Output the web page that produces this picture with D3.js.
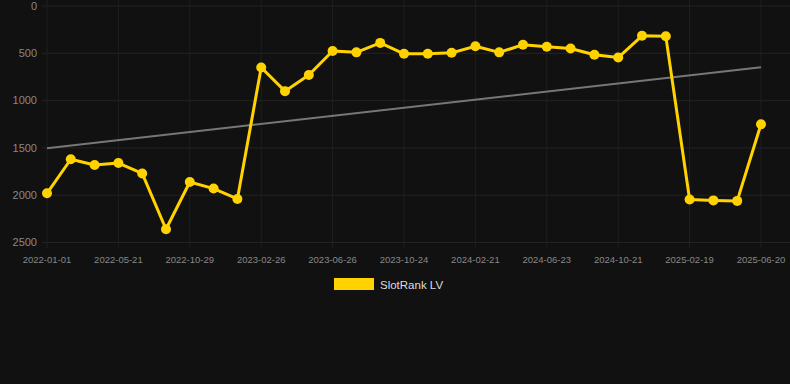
<!DOCTYPE html>
<html>
<head>
<meta charset="utf-8">
<script src="https://cdn.jsdelivr.net/npm/d3@7"></script>
<style>
  html, body { margin: 0; padding: 0; background: #111111; }
  svg { display: block; }
</style>
</head>
<body>
<svg></svg>
<script>
const width = 790;
const height = 384;

// category labels (only every third is shown on the axis)
const dates = [
  "2022-01-01", "2022-02-16", "2022-04-04", "2022-05-21", "2022-07-04", "2022-09-15",
  "2022-10-29", "2022-12-08", "2023-01-17", "2023-02-26", "2023-04-07", "2023-05-17",
  "2023-06-26", "2023-08-05", "2023-09-14", "2023-10-24", "2023-12-03", "2024-01-12",
  "2024-02-21", "2024-04-01", "2024-05-13", "2024-06-23", "2024-08-02", "2024-09-11",
  "2024-10-21", "2024-11-30", "2025-01-09", "2025-02-19", "2025-03-31", "2025-05-10",
  "2025-06-20"
];
const ranks = [
  1980, 1620, 1680, 1660, 1770, 2360, 1860, 1930, 2040,
  650, 900, 730, 475, 490, 390, 505, 505, 495, 425, 490,
  410, 430, 450, 515, 545, 315, 320, 2045, 2055, 2060, 1250
];
const yTicks = [0, 500, 1000, 1500, 2000, 2500];
const seriesName = "SlotRank LV";

const svg = d3.select("svg")
  .attr("width", width)
  .attr("height", height);

const x = d3.scalePoint()
  .domain(dates)
  .range([47, 761]);

const y = d3.scaleLinear()
  .domain([0, 2500])
  .range([6, 242.5]);

// grid
svg.append("g")
  .selectAll("line")
  .data(yTicks)
  .enter()
  .append("line")
  .attr("x1", 42)
  .attr("x2", width)
  .attr("y1", d => y(d))
  .attr("y2", d => y(d))
  .attr("stroke", "#232323")
  .attr("stroke-width", 1);

const shownDates = dates.filter((d, i) => i % 3 === 0);

svg.append("g")
  .selectAll("line")
  .data(shownDates)
  .enter()
  .append("line")
  .attr("x1", d => x(d))
  .attr("x2", d => x(d))
  .attr("y1", 0)
  .attr("y2", 248)
  .attr("stroke", "#1f1f1f")
  .attr("stroke-width", 1);

// y axis labels
svg.append("g")
  .selectAll("text")
  .data(yTicks)
  .enter()
  .append("text")
  .attr("x", 37)
  .attr("y", d => y(d))
  .attr("dy", "0.35em")
  .attr("text-anchor", "end")
  .attr("fill", "#888")
  .attr("font-family", "Helvetica, Arial, sans-serif")
  .attr("font-size", 11)
  .text(d => d);

// x axis labels
svg.append("g")
  .selectAll("text")
  .data(shownDates)
  .enter()
  .append("text")
  .attr("x", d => x(d))
  .attr("y", 260)
  .attr("dy", "0.35em")
  .attr("text-anchor", "middle")
  .attr("fill", "#888")
  .attr("font-family", "Helvetica, Arial, sans-serif")
  .attr("font-size", 9.5)
  .text(d => d);

// trend line (least squares over the series)
const n = ranks.length;
const idx = d3.range(n);
const mx = d3.mean(idx);
const my = d3.mean(ranks);
const slope = d3.sum(idx, i => (i - mx) * (ranks[i] - my)) / d3.sum(idx, i => (i - mx) ** 2);
const icept = my - slope * mx;
const trend = [0, n - 1].map(i => ({ date: dates[i], v: icept + slope * i }));

svg.append("path")
  .datum(trend)
  .attr("fill", "none")
  .attr("stroke", "#777")
  .attr("stroke-width", 2)
  .attr("d", d3.line().x(d => x(d.date)).y(d => y(d.v)));

// main series
const pts = dates.map((d, i) => ({ date: d, v: ranks[i] }));

svg.append("path")
  .datum(pts)
  .attr("fill", "none")
  .attr("stroke", "#FFD200")
  .attr("stroke-width", 3)
  .attr("stroke-linejoin", "round")
  .attr("d", d3.line().x(d => x(d.date)).y(d => y(d.v)));

svg.append("g")
  .selectAll("circle")
  .data(pts)
  .enter()
  .append("circle")
  .attr("cx", d => x(d.date))
  .attr("cy", d => y(d.v))
  .attr("r", 5)
  .attr("fill", "#FFD200");

// legend
svg.append("rect")
  .attr("x", 334)
  .attr("y", 278)
  .attr("width", 40)
  .attr("height", 12)
  .attr("fill", "#FFD200");

svg.append("text")
  .attr("x", 380)
  .attr("y", 284.5)
  .attr("dy", "0.35em")
  .attr("fill", "#ddd")
  .attr("font-family", "Helvetica, Arial, sans-serif")
  .attr("font-size", 11.5)
  .text(seriesName);
</script>
</body>
</html>
